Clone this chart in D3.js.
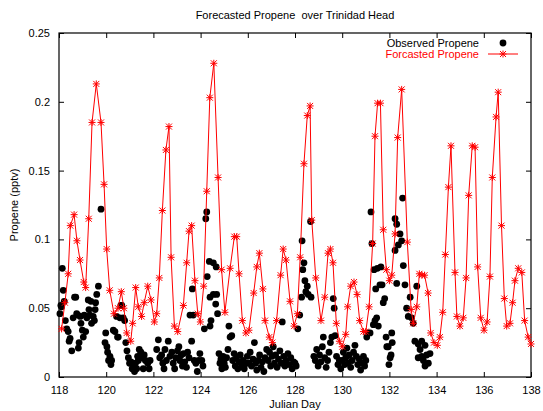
<!DOCTYPE html>
<html>
<head>
<meta charset="utf-8">
<script src="https://cdn.jsdelivr.net/npm/d3@7"></script>
<style>
  body { margin: 0; background: #fff; }
  svg text { font-family: "Liberation Sans", Arial, sans-serif; font-size: 11px; white-space: pre; }
</style>
</head>
<body>
<svg width="543" height="411"></svg>
<script>
const title = "Forecasted Propene  over Trinidad Head";
const xTicks = [118, 120, 122, 124, 126, 128, 130, 132, 134, 136, 138];
const yTicks = [0, 0.05, 0.1, 0.15, 0.2, 0.25];
const yTickLabels = ["0", "0.05", "0.1", "0.15", "0.2", "0.25"];

// forecast: [julian day, pptv]
const forecast = [
  [118.11,0.035],[118.25,0.054],[118.39,0.075],[118.48,0.110],[118.64,0.118],[118.76,0.099],
  [118.89,0.085],[119.05,0.069],[119.13,0.065],[119.26,0.115],[119.40,0.185],[119.58,0.213],
  [119.78,0.185],[119.91,0.140],[120.02,0.093],[120.15,0.063],[120.33,0.046],[120.50,0.050],
  [120.64,0.062],[120.75,0.050],[120.87,0.032],[121.04,0.026],[121.12,0.039],[121.25,0.065],
  [121.36,0.051],[121.50,0.044],[121.61,0.054],[121.76,0.066],[121.90,0.056],[122.04,0.040],
  [122.14,0.046],[122.25,0.072],[122.38,0.121],[122.53,0.165],[122.66,0.182],[122.75,0.087],
  [122.89,0.037],[123.03,0.033],[123.27,0.052],[123.41,0.083],[123.51,0.106],[123.62,0.110],
  [123.76,0.070],[123.88,0.046],[123.99,0.040],[124.13,0.066],[124.26,0.135],[124.39,0.203],
  [124.56,0.228],[124.74,0.145],[124.89,0.078],[125.03,0.047],[125.25,0.079],[125.43,0.102],
  [125.53,0.102],[125.63,0.075],[125.77,0.041],[125.92,0.032],[126.05,0.034],[126.25,0.061],
  [126.38,0.080],[126.49,0.090],[126.64,0.064],[126.73,0.041],[126.91,0.029],[127.04,0.025],
  [127.22,0.041],[127.39,0.074],[127.50,0.093],[127.62,0.085],[127.79,0.055],[127.96,0.037],
  [128.10,0.046],[128.22,0.087],[128.38,0.155],[128.52,0.190],[128.64,0.197],[128.71,0.114],
  [128.88,0.072],[129.10,0.041],[129.26,0.058],[129.40,0.090],[129.50,0.093],[129.61,0.083],
  [129.75,0.039],[129.88,0.026],[130.00,0.022],[130.15,0.031],[130.23,0.051],[130.36,0.066],
  [130.50,0.069],[130.63,0.060],[130.74,0.041],[130.90,0.033],[131.00,0.033],[131.14,0.051],
  [131.29,0.097],[131.39,0.175],[131.50,0.199],[131.62,0.199],[131.74,0.107],[131.87,0.078],
  [132.00,0.070],[132.10,0.074],[132.24,0.104],[132.35,0.174],[132.52,0.209],[132.76,0.098],
  [132.92,0.049],[133.01,0.039],[133.16,0.051],[133.27,0.075],[133.38,0.074],[133.49,0.074],
  [133.64,0.061],[133.75,0.032],[133.89,0.025],[134.03,0.023],[134.14,0.029],[134.26,0.047],
  [134.37,0.089],[134.50,0.138],[134.61,0.168],[134.78,0.076],[134.86,0.044],[134.99,0.037],
  [135.13,0.043],[135.25,0.072],[135.36,0.132],[135.51,0.168],[135.63,0.167],[135.74,0.080],
  [135.87,0.043],[136.01,0.034],[136.14,0.040],[136.26,0.073],[136.36,0.145],[136.52,0.189],
  [136.61,0.207],[136.75,0.110],[136.87,0.057],[136.97,0.037],[137.11,0.039],[137.22,0.054],
  [137.32,0.070],[137.46,0.079],[137.61,0.076],[137.73,0.041],[137.88,0.029],[138.00,0.024]
];

// observed: [julian day, pptv]
const observed = [
  [118.04,0.046],[118.08,0.052],[118.11,0.051],[118.14,0.079],[118.18,0.063],[118.22,0.055],
  [118.27,0.041],[118.33,0.035],[118.39,0.033],[118.43,0.026],[118.47,0.028],[118.54,0.019],
  [118.60,0.043],[118.66,0.058],[118.71,0.058],[118.75,0.046],[118.80,0.045],[118.82,0.021],
  [118.85,0.025],[118.90,0.044],[118.93,0.039],[118.99,0.034],[119.03,0.029],[119.07,0.045],
  [119.13,0.033],[119.18,0.043],[119.24,0.056],[119.27,0.049],[119.31,0.045],[119.35,0.055],
  [119.38,0.039],[119.45,0.044],[119.50,0.041],[119.53,0.049],[119.55,0.054],[119.60,0.060],
  [119.67,0.066],[119.78,0.122],
  [119.95,0.025],[119.98,0.032],[120.03,0.022],[120.06,0.018],[120.10,0.012],[120.16,0.015],
  [120.20,0.009],[120.23,0.012],[120.30,0.034],[120.37,0.033],[120.44,0.044],[120.48,0.029],
  [120.51,0.029],[120.58,0.043],[120.62,0.052],[120.66,0.052],[120.72,0.043],[120.78,0.041],
  [120.83,0.025],[120.88,0.019],[120.94,0.014],[120.99,0.010],[121.05,0.011],[121.10,0.006],
  [121.15,0.008],[121.20,0.004],[121.24,0.010],[121.29,0.006],[121.33,0.015],[121.36,0.012],
  [121.40,0.020],[121.47,0.018],[121.53,0.014],[121.57,0.006],[121.61,0.016],[121.66,0.012],
  [121.76,0.010],[121.82,0.006],[121.86,0.012],
  [122.14,0.020],[122.21,0.027],[122.27,0.014],[122.35,0.016],[122.40,0.010],[122.45,0.006],
  [122.49,0.020],[122.55,0.012],[122.63,0.026],[122.70,0.015],[122.78,0.018],[122.84,0.010],
  [122.90,0.006],[122.95,0.014],[123.02,0.019],[123.08,0.022],[123.12,0.012],[123.18,0.016],
  [123.23,0.008],[123.28,0.017],[123.33,0.011],[123.40,0.007],[123.45,0.018],[123.51,0.014],
  [123.55,0.045],[123.62,0.026],[123.65,0.064],[123.69,0.045],[123.73,0.012],[123.80,0.010],
  [123.86,0.004],[123.92,0.012],[123.97,0.017],
  [124.05,0.012],[124.10,0.008],[124.16,0.035],[124.22,0.115],[124.26,0.120],[124.28,0.073],
  [124.37,0.084],[124.40,0.058],[124.40,0.037],[124.44,0.041],[124.54,0.083],[124.54,0.060],
  [124.66,0.080],[124.64,0.053],[124.68,0.060],[124.72,0.046],[124.78,0.017],[124.82,0.010],
  [124.86,0.013],[124.90,0.006],[124.95,0.015],[125.00,0.010],[125.05,0.007],[125.10,0.014],
  [125.16,0.020],[125.20,0.037],[125.25,0.029],[125.32,0.030],[125.36,0.012],[125.42,0.017],
  [125.47,0.008],[125.52,0.014],[125.58,0.006],[125.63,0.011],[125.68,0.016],[125.74,0.009],
  [125.80,0.012],[125.85,0.006],[125.92,0.010],
  [125.98,0.015],[126.04,0.010],[126.10,0.018],[126.16,0.008],[126.22,0.013],[126.28,0.025],
  [126.33,0.010],[126.38,0.005],[126.44,0.012],[126.50,0.016],[126.56,0.007],[126.62,0.011],
  [126.68,0.004],[126.73,0.014],[126.80,0.020],[126.86,0.012],[126.92,0.018],[126.97,0.008],
  [127.03,0.015],[127.08,0.022],[127.13,0.010],[127.18,0.016],[127.24,0.007],[127.30,0.013],
  [127.36,0.019],[127.42,0.010],[127.46,0.040],[127.52,0.015],[127.57,0.008],[127.63,0.012],
  [127.70,0.017],[127.76,0.009],[127.82,0.014],[127.88,0.006],[127.94,0.011],
  [128.00,0.010],[128.05,0.008],[128.12,0.035],[128.20,0.045],[128.28,0.058],[128.30,0.099],
  [128.33,0.078],[128.38,0.083],[128.42,0.070],[128.46,0.062],[128.52,0.066],[128.56,0.060],
  [128.66,0.113],[128.68,0.058],[128.80,0.015],[128.86,0.012],[128.92,0.020],[128.98,0.008],
  [129.04,0.016],[129.10,0.011],[129.16,0.022],[129.20,0.029],[129.26,0.014],[129.32,0.007],
  [129.38,0.012],[129.44,0.018],[129.50,0.025],[129.56,0.029],[129.62,0.057],[129.66,0.050],
  [129.70,0.030],[129.76,0.015],[129.82,0.009],[129.88,0.012],[129.94,0.006],
  [130.00,0.012],[130.05,0.018],[130.10,0.009],[130.15,0.014],[130.20,0.021],[130.25,0.010],
  [130.30,0.016],[130.36,0.007],[130.42,0.012],[130.48,0.018],[130.54,0.023],[130.60,0.015],
  [130.66,0.009],[130.72,0.013],[130.78,0.005],[130.84,0.010],[130.90,0.015],[130.95,0.008],
  [131.00,0.012],[131.04,0.029],[131.10,0.032],[131.18,0.032],[131.22,0.120],[131.26,0.097],
  [131.32,0.038],[131.35,0.078],[131.39,0.041],[131.42,0.064],[131.46,0.043],[131.49,0.079],
  [131.53,0.037],[131.60,0.067],[131.64,0.080],[131.69,0.067],[131.74,0.054],[131.80,0.057],
  [131.86,0.029],[131.89,0.022],[131.95,0.022],[131.98,0.009],
  [132.03,0.014],[132.07,0.016],[132.10,0.032],[132.12,0.025],[132.24,0.115],[132.31,0.111],
  [132.45,0.104],[132.52,0.099],[132.38,0.096],[132.24,0.092],[132.56,0.130],[132.59,0.081],
  [132.31,0.068],[132.66,0.067],[132.88,0.058],[132.73,0.050],[132.80,0.044],[132.94,0.043],
  [133.01,0.039],[133.16,0.066],[133.08,0.026],[133.22,0.024],[133.37,0.026],[133.51,0.023],
  [133.37,0.015],[133.22,0.014],[133.58,0.016],[133.72,0.017],[133.65,0.010],[133.51,0.008],
  [133.30,0.020],[133.44,0.012]
];

const svg = d3.select("svg");
const plotLeft = 59, plotRight = 531, plotTop = 33, plotBottom = 377;

const x = d3.scaleLinear().domain([118, 138]).range([plotLeft, plotRight]);
const y = d3.scaleLinear().domain([0, 0.25]).range([plotBottom, plotTop]);

// inward ticks on all four sides, gnuplot style
const tickLen = 5;
const axisG = svg.append("g");

axisG.append("g")
  .attr("transform", `translate(0,${plotBottom})`)
  .call(d3.axisBottom(x).tickValues(xTicks).tickSizeInner(-tickLen).tickSizeOuter(0).tickPadding(9))
  .call(g => g.select(".domain").remove());
axisG.append("g")
  .attr("transform", `translate(0,${plotTop})`)
  .call(d3.axisTop(x).tickValues(xTicks).tickSizeInner(-tickLen).tickSizeOuter(0).tickFormat(""))
  .call(g => g.select(".domain").remove());
axisG.append("g")
  .attr("transform", `translate(${plotLeft},0)`)
  .call(d3.axisLeft(y).tickValues(yTicks).tickSizeInner(-tickLen).tickSizeOuter(0).tickPadding(9)
    .tickFormat((d, i) => yTickLabels[i]))
  .call(g => g.select(".domain").remove());
axisG.append("g")
  .attr("transform", `translate(${plotRight},0)`)
  .call(d3.axisRight(y).tickValues(yTicks).tickSizeInner(-tickLen).tickSizeOuter(0).tickFormat(""))
  .call(g => g.select(".domain").remove());

axisG.selectAll("text")
  .attr("fill", "#000")
  .style("font-size", "11px")
  .style("font-family", "'Liberation Sans', Arial, sans-serif");
axisG.selectAll("line").attr("stroke", "#000");

svg.append("rect")
  .attr("x", plotLeft)
  .attr("y", plotTop)
  .attr("width", plotRight - plotLeft)
  .attr("height", plotBottom - plotTop)
  .attr("fill", "none")
  .attr("stroke", "#000")
  .attr("stroke-width", 1.2);

// observed points
svg.append("g")
  .selectAll("circle")
  .data(observed)
  .enter()
  .append("circle")
  .attr("cx", d => x(d[0]))
  .attr("cy", d => y(d[1]))
  .attr("r", 3.4)
  .attr("fill", "#000");

// forecast line + star markers
const line = d3.line().x(d => x(d[0])).y(d => y(d[1]));
const star = "M-3,-3L3,3M-3,3L3,-3M0,-3.5L0,3.5M-3.5,0L3.5,0";

svg.append("path")
  .datum(forecast)
  .attr("d", line)
  .attr("fill", "none")
  .attr("stroke", "#ff0000")
  .attr("stroke-width", 1);

svg.append("g")
  .selectAll("path")
  .data(forecast)
  .enter()
  .append("path")
  .attr("transform", d => `translate(${x(d[0])},${y(d[1])})`)
  .attr("d", star)
  .attr("stroke", "#ff0000")
  .attr("stroke-width", 1)
  .attr("fill", "none");

// legend
const legend = svg.append("g");
legend.append("text")
  .attr("x", 479)
  .attr("y", 47)
  .attr("text-anchor", "end")
  .attr("fill", "#000")
  .text("Observed Propene");
legend.append("circle")
  .attr("cx", 503)
  .attr("cy", 43)
  .attr("r", 3.4)
  .attr("fill", "#000");
legend.append("text")
  .attr("x", 479)
  .attr("y", 58)
  .attr("text-anchor", "end")
  .attr("fill", "#ff0000")
  .text("Forcasted Propene");
legend.append("line")
  .attr("x1", 488)
  .attr("x2", 518)
  .attr("y1", 54)
  .attr("y2", 54)
  .attr("stroke", "#ff0000");
legend.append("path")
  .attr("transform", "translate(503,54)")
  .attr("d", star)
  .attr("stroke", "#ff0000")
  .attr("fill", "none");

// titles
svg.append("text")
  .attr("x", 295)
  .attr("y", 19)
  .attr("text-anchor", "middle")
  .attr("fill", "#000")
  .attr("xml:space", "preserve")
  .text(title);

svg.append("text")
  .attr("x", 295)
  .attr("y", 408)
  .attr("text-anchor", "middle")
  .attr("fill", "#000")
  .text("Julian Day");

svg.append("text")
  .attr("transform", "translate(18,205) rotate(-90)")
  .attr("text-anchor", "middle")
  .attr("fill", "#000")
  .text("Propene (pptv)");
</script>
</body>
</html>
